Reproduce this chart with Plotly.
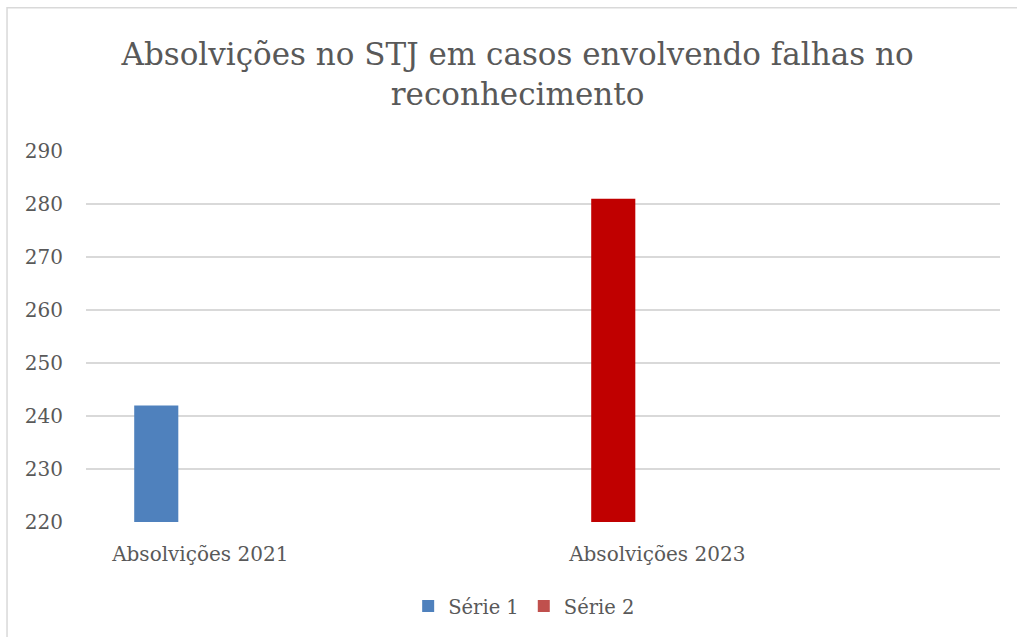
import plotly.graph_objects as go

# ---- data ----
categories = ["Absolvições 2021", "\u200b", "Absolvições 2023", "\u200b\u200b"]
labelled_categories = ["Absolvições 2021", "Absolvições 2023"]
serie1_x = ["Absolvições 2021"]
serie1_y = [242]
serie2_x = ["Absolvições 2023"]
serie2_y = [281]
series_names = ["Série 1", "Série 2"]
y_ticks = [220, 230, 240, 250, 260, 270, 280, 290]
title_text = "Absolvições no STJ em casos envolvendo falhas no<br>reconhecimento"

FONT = "DejaVu Serif"
GREY = "#595959"

fig = go.Figure()
bar_kw = dict(offset=-0.289, width=0.193)
fig.add_trace(go.Bar(x=serie1_x, y=serie1_y, name=series_names[0],
                     marker=dict(color="#4F81BD", line=dict(width=0)), **bar_kw))
fig.add_trace(go.Bar(x=serie2_x, y=serie2_y, name=series_names[1], showlegend=False,
                     marker=dict(color="#C00000", line=dict(width=0)), **bar_kw))
# legend entry for Série 2 (legend swatch colour differs from bar)
fig.add_trace(go.Bar(x=[None], y=[None], name=series_names[1],
                     marker=dict(color="#C0504D", line=dict(width=0))))

fig.update_layout(
    width=1017, height=637,
    margin=dict(l=86, r=17, t=151, b=114),
    paper_bgcolor="white", plot_bgcolor="white",
    barmode="overlay",
    title=dict(text=title_text, x=0.5089, xanchor="center", y=0.898, yanchor="top",
               font=dict(family=FONT, size=31, color=GREY)),
    font=dict(family=FONT, color=GREY),
    xaxis=dict(type="category", categoryorder="array", categoryarray=categories,
               tickvals=labelled_categories, ticktext=labelled_categories,
               range=[-0.5, 3.5], showgrid=False, zeroline=False,
               showline=False, ticks="", tickfont=dict(size=20, color=GREY),
               ticklabelstandoff=18),
    yaxis=dict(range=[220, 290], tickvals=y_ticks, showgrid=True, gridcolor="#D9D9D9",
               gridwidth=1.5, zeroline=False, showline=False, ticks="",
               tickfont=dict(size=20, color=GREY), ticklabelstandoff=22),
    legend=dict(orientation="h", x=0.4794, xanchor="center", y=-0.224, yanchor="middle",
                font=dict(size=19.5, color=GREY), itemwidth=30, traceorder="normal"),
    showlegend=True,
    shapes=[dict(type="rect", xref="paper", yref="paper",
                 x0=-0.0864, x1=1.2, y0=-0.6, y1=1.386,
                 line=dict(color="#D9D9D9", width=1.5), fillcolor="rgba(0,0,0,0)",
                 layer="below")],
)

fig.write_html(
    "out.html",
    config={"displayModeBar": False},
    post_script=("document.body.style.margin='0';"
                 "document.documentElement.style.overflow='hidden';"
                 "document.body.style.overflow='hidden';"),
)
